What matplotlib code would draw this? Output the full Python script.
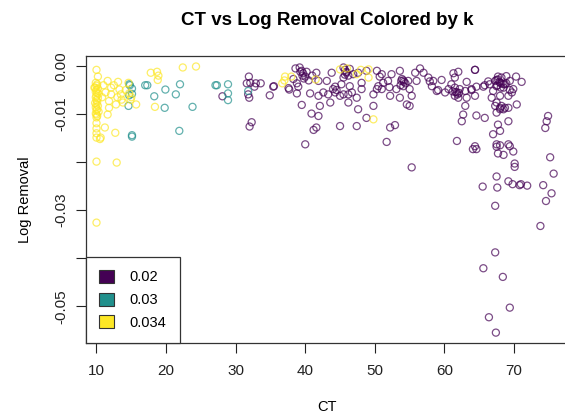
import matplotlib
matplotlib.use("Agg")
import matplotlib.pyplot as plt
from matplotlib.patches import Patch

plt.rcParams["font.family"] = ["Liberation Sans", "DejaVu Sans"]

# ---- data ----
k_levels = ["0.02", "0.03", "0.034"]
k_colors = ["#440154", "#21908C", "#FDE725"]

# k = 0.034 (yellow)
ct_034 = [10.0, 10.2, 9.9, 10.1, 10.0, 9.8, 10.2, 10.0, 9.9, 10.1, 10.3, 10.0,
          9.9, 10.2, 10.0, 10.1, 9.8, 10.0, 10.2, 9.9, 10.1, 10.0, 10.3, 9.9,
          10.0, 10.1, 10.0, 10.0, 10.0, 10.0, 10.0, 10.5, 10.0, 10.0,
          11.2, 12.7, 12.9, 11.6, 13.1, 14.6, 9.7, 12.1, 13.3, 12.1, 13.5, 14.7,
          11.8, 13.8, 11.8, 11.6, 15.7, 17.8, 18.7, 18.8, 18.9, 22.4, 24.3, 18.4,
          10.6, 11.0, 12.5, 13.0, 12.8, 14.2, 11.3, 13.6, 10.8, 15.0, 14.9,
          37.1, 38.0, 36.7, 37.0, 41.5, 45.0, 46.0, 47.4, 48.0, 49.1, 49.1, 49.8]
lr_034 = [-0.0008, -0.0022, -0.0035, -0.0038, -0.0041, -0.0045, -0.0047, -0.0050,
          -0.0054, -0.0056, -0.0058, -0.0062, -0.0065, -0.0067, -0.0071, -0.0074,
          -0.0077, -0.0080, -0.0083, -0.0086, -0.0090, -0.0092, -0.0095, -0.0099,
          -0.0101, -0.0104, -0.0107, -0.0119, -0.0130, -0.0140, -0.0149, -0.0152,
          -0.0199, -0.0326,
          -0.0128, -0.0139, -0.0201, -0.0031, -0.0033, -0.0035, -0.0045, -0.0045,
          -0.0049, -0.0059, -0.0059, -0.0057, -0.0073, -0.0076, -0.0087, -0.0101,
          -0.0080, -0.0014, -0.0012, -0.0029, -0.0020, -0.0003, -0.0001, -0.0085,
          -0.0149, -0.0040, -0.0040, -0.0065, -0.0080, -0.0050, -0.0055, -0.0070,
          -0.0065, -0.0065, -0.0070,
          -0.0022, -0.0022, -0.0036, -0.0030, -0.0028, -0.0007, -0.0005, -0.0017,
          -0.0008, -0.0007, -0.0024, -0.0111]

# k = 0.03 (teal)
ct_03 = [14.7, 15.1, 14.7, 14.6, 14.8, 15.1, 17.0, 17.3, 19.9, 18.3, 21.4, 22.0,
         19.8, 23.8, 21.9, 15.1, 15.1, 27.1, 27.3, 28.9, 28.9, 28.9, 31.8]
lr_03 = [-0.0038, -0.0047, -0.0061, -0.0083, -0.0040, -0.0058, -0.0040, -0.0040,
         -0.0049, -0.0063, -0.0059, -0.0038, -0.0087, -0.0085, -0.0135, -0.0144,
         -0.0147, -0.0040, -0.0040, -0.0038, -0.0057, -0.0071, -0.0052]

# k = 0.02 (purple)
ct_02 = [28.1, 31.9, 32.1, 32.9, 33.6, 32.7, 31.8, 31.95, 35.5, 34.9, 32.3, 32.0,
         37.7, 39.0, 31.6, 35.4, 38.6, 39.5, 38.3, 40.5, 41.0,
         39.2, 39.7, 40.2, 40.0, 38.8, 37.6, 38.8, 40.7, 39.5, 40.9, 40.0, 41.2,
         # 41 - 59
         41.6, 41.9, 43.1, 43.8, 44.0, 44.3, 45.2, 45.5, 46.4, 46.7, 48.1, 48.1,
         46.9, 47.6, 48.8, 50.3, 51.0, 51.2, 50.5, 51.0, 51.9, 52.4, 53.6, 53.8,
         54.1, 53.1, 54.8, 55.0, 55.8, 56.0, 57.0, 57.7, 58.2, 58.4, 41.9, 42.6,
         43.3, 43.6, 45.0, 46.2, 46.2, 47.4, 47.6, 49.8, 49.8, 48.8, 50.3, 52.2,
         53.6, 54.6, 55.0, 55.3, 42.1, 41.9, 41.6, 45.0, 47.4, 52.2, 52.9, 51.7,
         45.5, 45.7, 45.9, 46.2, 45.5, 45.9, 46.4, 45.7, 53.9, 54.2, 53.7, 54.4,
         54.1, 39.3, 39.6, 39.8, 44.5, 44.3, 56.5, 57.9, 59.1, 50.7, 52.1,
         # 58 - 76
         64.4, 62.0, 59.6, 61.5, 63.2, 61.0, 60.6, 58.9, 60.1, 61.5, 61.8, 62.2,
         63.0, 63.9, 64.6, 64.4, 61.5, 62.0, 63.2, 63.0, 62.7, 62.5, 64.6, 65.8,
         65.8, 66.5, 67.3, 67.7, 68.2, 67.5, 68.0, 68.7, 68.9, 69.4, 69.9, 71.1,
         69.7, 69.2, 68.5, 66.8, 67.0, 68.0, 67.5, 68.2, 68.7, 69.2, 68.0, 67.5,
         70.4, 69.2, 67.7, 68.0, 67.0, 67.5, 69.2, 68.0, 74.9, 74.7, 74.5, 61.8,
         64.4, 67.3, 68.0, 68.5, 67.5, 67.9, 68.2, 67.6, 68.1, 68.5, 61.6, 61.9,
         62.1, 64.4, 61.3, 61.2, 63.9, 65.6, 66.3, 67.7, 70.3, 68.9, 69.4,
         # lower tail
         55.3, 64.1, 64.6, 67.7, 69.9, 68.5, 70.1, 70.1, 67.5, 65.5, 67.6, 69.2,
         69.8, 70.8, 71.0, 71.9, 67.3, 74.2, 75.4, 74.6, 75.7, 75.2, 73.8, 67.5,
         69.4, 67.3, 65.6, 68.4, 69.4, 66.4, 67.4]
lr_02 = [-0.0063, -0.0022, -0.0035, -0.0036, -0.0036, -0.0043, -0.0059, -0.0066,
         -0.0042, -0.0061, -0.0117, -0.0126, -0.0049, -0.0043, -0.0036, -0.0043,
         -0.0005, -0.0010, -0.0027, -0.0030, -0.0020,
         -0.0003, -0.0015, -0.0012, -0.0022, -0.0036, -0.0046, -0.0057, -0.0057,
         -0.0081, -0.0099, -0.0163, -0.0133,
         -0.0014, -0.0031, -0.0031, -0.0014, -0.0048, -0.0055, -0.0038, -0.0059,
         -0.0042, -0.0055, -0.0035, -0.0048, -0.0017, -0.0014, -0.0010, -0.0010,
         -0.0017, -0.0035, -0.0042, -0.0048, -0.0031, -0.0017, -0.0010, -0.0031,
         -0.0042, -0.0048, -0.0031, -0.0048, -0.0014, -0.0031, -0.0014, -0.0024,
         -0.0042, -0.0031, -0.0062, -0.0055, -0.0059, -0.0076, -0.0062, -0.0059,
         -0.0076, -0.0066, -0.0090, -0.0083, -0.0059, -0.0108, -0.0048, -0.0062,
         -0.0066, -0.0080, -0.0083, -0.0062, -0.0083, -0.0104, -0.0128, -0.0125,
         -0.0125, -0.0128, -0.0123, -0.0158, -0.0003, -0.0008, -0.0014, -0.0020,
         -0.0024, -0.0012, -0.0006, -0.0018, -0.0027, -0.0033, -0.0040, -0.0036,
         -0.0030, -0.0012, -0.0020, -0.0026, -0.0050, -0.0043, -0.0005, -0.0032,
         -0.0050, -0.0022, -0.0044,
         -0.0008, -0.0012, -0.0029, -0.0024, -0.0033, -0.0038, -0.0048, -0.0052,
         -0.0055, -0.0045, -0.0055, -0.0048, -0.0052, -0.0048, -0.0043, -0.0062,
         -0.0062, -0.0066, -0.0066, -0.0083, -0.0101, -0.0115, -0.0103, -0.0108,
         -0.0040, -0.0038, -0.0031, -0.0028, -0.0024, -0.0042, -0.0035, -0.0038,
         -0.0021, -0.0031, -0.0048, -0.0033, -0.0055, -0.0062, -0.0045, -0.0066,
         -0.0052, -0.0062, -0.0076, -0.0083, -0.0087, -0.0087, -0.0090, -0.0097,
         -0.0080, -0.0115, -0.0122, -0.0135, -0.0142, -0.0163, -0.0163, -0.0165,
         -0.0104, -0.0115, -0.0129, -0.0156, -0.0167, -0.0083, -0.0087, -0.0090,
         -0.0029, -0.0033, -0.0036, -0.0040, -0.0045, -0.0038, -0.0054, -0.0059,
         -0.0056, -0.0008, -0.0015, -0.0053, -0.0050, -0.0043, -0.0032, -0.0022,
         -0.0022, -0.0036, -0.0050,
         -0.0211, -0.0173, -0.0173, -0.0182, -0.0178, -0.0185, -0.0203, -0.0210,
         -0.0230, -0.0251, -0.0253, -0.0240, -0.0246, -0.0248, -0.0246, -0.0249,
         -0.0291, -0.0248, -0.0265, -0.0281, -0.0224, -0.0190, -0.0333, -0.0168,
         -0.0167, -0.0388, -0.0421, -0.0439, -0.0503, -0.0523, -0.0555]

series = [(ct_02, lr_02), (ct_03, lr_03), (ct_034, lr_034)]

# ---- figure ----
fig = plt.figure(figsize=(5.65, 4.15), dpi=100)
ax = fig.add_axes([0.1522, 0.1742, 0.8528, 0.6916])

for (xs, ys), col in zip(series, k_colors):
    ax.scatter(xs, ys, s=26, facecolors="none", edgecolors=col,
               linewidths=0.9, alpha=0.7)

ax.set_xlim(8.49, 77.74)
ax.set_ylim(-0.0576, 0.00215)

ax.set_xticks([10, 20, 30, 40, 50, 60, 70])
ax.set_yticks([0.0, -0.01, -0.02, -0.03, -0.04, -0.05])
ax.set_yticklabels(["0.00", "-0.01", "", "-0.03", "", "-0.05"],
                   rotation=90, va="center")
ax.tick_params(direction="out", length=7, width=0.8, labelsize=11,
               colors="#222222")
ax.tick_params(axis="x", pad=8)
ax.tick_params(axis="y", pad=6)
for s in ax.spines.values():
    s.set_linewidth(0.9)
    s.set_color("#333333")

ax.set_xlabel("CT", fontsize=10.5, labelpad=16)
ax.set_ylabel("Log Removal", fontsize=10.5, labelpad=16)
# title centred over the plot region, as R does
ax.set_title("CT vs Log Removal Colored by k", fontsize=13.5,
             fontweight="bold", pad=22)

handles = [Patch(facecolor=c, edgecolor="#333333", linewidth=0.8) for c in k_colors]
leg = ax.legend(handles, k_levels, loc="lower left", bbox_to_anchor=(0, 0),
                borderaxespad=0, fancybox=False, edgecolor="#333333",
                framealpha=1, fontsize=10.5, handlelength=1.0,
                handleheight=1.0, handletextpad=1.1, labelspacing=0.55,
                borderpad=0.9)
leg.get_frame().set_linewidth(0.9)

fig.savefig("out.png", dpi=100)
